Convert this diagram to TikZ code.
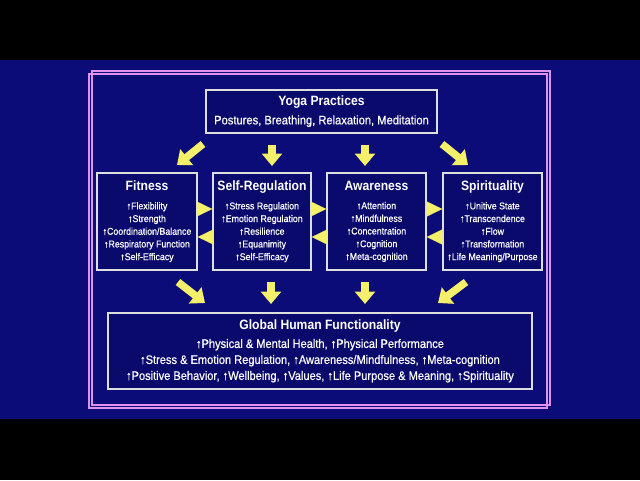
\documentclass[tikz,border=0pt]{standalone}
\usepackage{fontspec}
\setmainfont{Liberation Sans}[FakeStretch=0.9, UprightFeatures={FakeBold=0.6}]
\usetikzlibrary{arrows.meta}
\definecolor{bgblue}{RGB}{12,12,120}
\definecolor{boxblue}{RGB}{10,10,108}
\definecolor{framepink}{RGB}{222,145,238}
\definecolor{boxline}{RGB}{222,222,222}
\definecolor{arrowyellow}{RGB}{245,240,105}
\begin{document}
\begin{tikzpicture}[x=1pt,y=-1pt,
  box/.style={draw=boxline, line width=1.5pt, fill=boxblue, text=white, align=center, inner sep=0pt},
  itemfont/.style={font=\fontsize{9.8}{12.7}\selectfont},
  framestyle/.style={draw=framepink, line width=2.6pt},
  bigarrow/.style={draw=arrowyellow, line width=7.5pt, -{Triangle[length=12.5pt,width=20pt]}},
  tri/.style={draw=arrowyellow, line width=0.1pt, -{Triangle[length=15.5pt,width=15pt]}}
]
\useasboundingbox (0,0) rectangle (640,480);
\fill[black] (0,0) rectangle (640,480);
\fill[bgblue] (0,60) rectangle (640,419);
\draw[framestyle] (92,71) rectangle (550,405);
\draw[framestyle] (89,74) rectangle (547,408);

\node[box, minimum width=231pt, minimum height=43pt] (yoga) at (321.5,111.5)
  {{\fontsize{13.5}{13.5}\selectfont\bfseries Yoga Practices}\\[6.5pt]
   {\fontsize{12.4}{13}\selectfont Postures, Breathing, Relaxation, Meditation}};

\node[box, itemfont, minimum width=100pt, minimum height=97pt] (fit) at (147,221.5)
  {{\fontsize{13.5}{13.5}\selectfont\bfseries Fitness}\\[6pt]
   ↑Flexibility\\ ↑Strength\\ ↑Coordination/Balance\\ ↑Respiratory Function\\ ↑Self-Efficacy};
\node[box, itemfont, minimum width=98pt, minimum height=97pt] (sr) at (262,221.5)
  {{\fontsize{13.5}{13.5}\selectfont\bfseries Self-Regulation}\\[6pt]
   ↑Stress Regulation\\ ↑Emotion Regulation\\ ↑Resilience\\ ↑Equanimity\\ ↑Self-Efficacy};
\node[box, itemfont, minimum width=99pt, minimum height=97pt] (aw) at (376.5,221.5)
  {{\fontsize{13.5}{13.5}\selectfont\bfseries Awareness}\\[6pt]
   ↑Attention\\ ↑Mindfulness\\ ↑Concentration\\ ↑Cognition\\ ↑Meta-cognition};
\node[box, itemfont, minimum width=99pt, minimum height=97pt] (sp) at (492.5,221.5)
  {{\fontsize{13.5}{13.5}\selectfont\bfseries Spirituality}\\[6pt]
   ↑Unitive State\\ ↑Transcendence\\ ↑Flow\\ ↑Transformation\\ ↑Life Meaning/Purpose};

\node[box, minimum width=424pt, minimum height=76pt, font=\fontsize{12.3}{16}\selectfont] (ghf) at (320,351)
  {{\fontsize{13.5}{13.5}\selectfont\bfseries Global Human Functionality}\\[2.6pt]
   ↑Physical \& Mental Health, ↑Physical Performance\\
   ↑Stress \& Emotion Regulation, ↑Awareness/Mindfulness, ↑Meta-cognition\\
   ↑Positive Behavior, ↑Wellbeing, ↑Values, ↑Life Purpose \& Meaning, ↑Spirituality};

% top arrows
\coordinate (a1s) at (203,144); \coordinate (a1e) at (177,165);
\coordinate (a2s) at (272,145); \coordinate (a2e) at (272,166);
\coordinate (a3s) at (365,145); \coordinate (a3e) at (365,166);
\coordinate (a4s) at (442,144); \coordinate (a4e) at (468,165);
\draw[bigarrow] (a1s) -- (a1e);
\draw[bigarrow] (a2s) -- (a2e);
\draw[bigarrow] (a3s) -- (a3e);
\draw[bigarrow] (a4s) -- (a4e);

% bottom arrows
\coordinate (b1s) at (178,282); \coordinate (b1e) at (205,303);
\coordinate (b2s) at (271,282); \coordinate (b2e) at (271,304);
\coordinate (b3s) at (365,282); \coordinate (b3e) at (365,304);
\coordinate (b4s) at (466,282); \coordinate (b4e) at (438,303);
\draw[bigarrow] (b1s) -- (b1e);
\draw[bigarrow] (b2s) -- (b2e);
\draw[bigarrow] (b3s) -- (b3e);
\draw[bigarrow] (b4s) -- (b4e);

% triangles between boxes
\draw[tri] ([yshift=12.5pt]fit.east) -- ([yshift=12.5pt]sr.west);
\draw[tri] ([yshift=-15.5pt]sr.west) -- ([yshift=-15.5pt]fit.east);
\draw[tri] ([yshift=12.5pt]sr.east) -- ([yshift=12.5pt]aw.west);
\draw[tri] ([yshift=-15.5pt]aw.west) -- ([yshift=-15.5pt]sr.east);
\draw[tri] ([yshift=12.5pt]aw.east) -- ([yshift=12.5pt]sp.west);
\draw[tri] ([yshift=-15.5pt]sp.west) -- ([yshift=-15.5pt]aw.east);
\end{tikzpicture}
\end{document}
